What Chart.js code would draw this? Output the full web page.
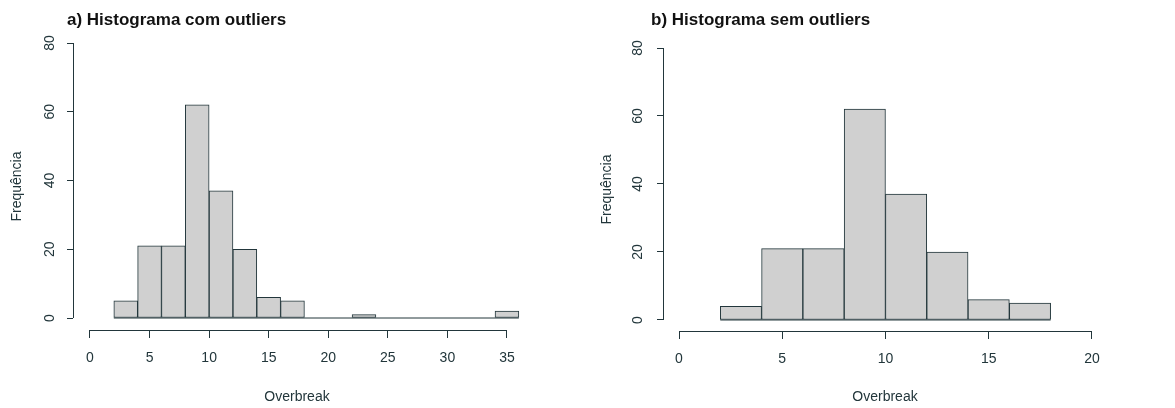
<!DOCTYPE html>
<html>
<head>
<meta charset="utf-8">
<script src="https://cdn.jsdelivr.net/npm/chart.js@4"></script>
<style>
	html, body { margin: 0; padding: 0; background: #fff; }
	.panel { position: absolute; top: 0; height: 408px; }
	#panelA { left: 0; width: 580px; }
	#panelB { left: 580px; width: 595px; }
</style>
</head>
<body>
<div class="panel" id="panelA"><canvas id="histA"></canvas></div>
<div class="panel" id="panelB"><canvas id="histB"></canvas></div>
<script>
// bin edges and counts
const breaksA = [2, 4, 6, 8, 10, 12, 14, 16, 18, 20, 22, 24, 26, 28, 30, 32, 34, 36]
const countsA = [5, 21, 21, 62, 37, 20, 6, 5, 0, 0, 1, 0, 0, 0, 0, 0, 2]
const breaksB = [2, 4, 6, 8, 10, 12, 14, 16, 18]
const countsB = [4, 21, 21, 62, 37, 20, 6, 5]

const xTicksA = [0, 5, 10, 15, 20, 25, 30, 35]
const xTicksB = [0, 5, 10, 15, 20]
const yTicks = [0, 20, 40, 60, 80]

const titleA = 'a) Histograma com outliers'
const titleB = 'b) Histograma sem outliers'
const xLabel = 'Overbreak'
const yLabel = 'Frequência'

const ink = '#22363b'
const barFill = '#d0d0d0'

Chart.defaults.font.family = "'Liberation Sans', Arial, sans-serif"
Chart.defaults.color = ink

// R style axes: lines only between first and last tick
const rAxes = {
	id: 'rAxes',
	afterDraw(chart) {
		const { ctx, chartArea, scales } = chart
		const x = scales.x
		const y = scales.y
		const xl = Math.round(chartArea.left) + 0.5
		const yb = Math.round(chartArea.bottom) + 0.5
		ctx.save()
		ctx.strokeStyle = ink
		ctx.lineWidth = 1
		ctx.beginPath()
		ctx.moveTo(xl, y.getPixelForValue(y.ticks[0].value))
		ctx.lineTo(xl, y.getPixelForValue(y.ticks[y.ticks.length - 1].value))
		ctx.moveTo(x.getPixelForValue(x.ticks[0].value), yb)
		ctx.lineTo(x.getPixelForValue(x.ticks[x.ticks.length - 1].value), yb)
		ctx.stroke()
		ctx.restore()
	},
}

const heading = {
	id: 'heading',
	afterDraw(chart, args, opts) {
		const { ctx } = chart
		ctx.save()
		ctx.font = "bold 17px 'Liberation Sans', Arial, sans-serif"
		ctx.fillStyle = '#111'
		ctx.textBaseline = 'middle'
		ctx.fillText(opts.text, opts.x, opts.y)
		ctx.restore()
	},
}

function makeHist(id, breaks, counts, xTicks, title, lay) {
	const bars = counts.map((c, i) => ({ x: (breaks[i] + breaks[i + 1]) / 2, y: c }))
	const base = [
		{ x: breaks[0], y: 0 },
		{ x: breaks[breaks.length - 1], y: 0 },
	]
	new Chart(document.getElementById(id).getContext('2d'), {
		type: 'bar',
		data: {
			datasets: [
				{
					data: bars,
					backgroundColor: barFill,
					borderColor: ink,
					borderWidth: 1,
					borderSkipped: false,
					barPercentage: 1,
					categoryPercentage: 1,
				},
				{
					type: 'line',
					data: base,
					borderColor: ink,
					borderWidth: 1,
					pointRadius: 0,
				},
			],
		},
		options: {
			responsive: true,
			maintainAspectRatio: false,
			animation: false,
			layout: {
				padding: { top: lay.top, right: lay.right, left: 0, bottom: 0 },
			},
			plugins: {
				legend: { display: false },
				tooltip: { enabled: false },
				heading: { text: title, x: lay.headX, y: 20 },
			},
			scales: {
				x: {
					type: 'linear',
					offset: false,
					min: lay.xMin,
					max: lay.xMax,
					afterBuildTicks: (axis) => {
						axis.ticks = xTicks.map((v) => ({ value: v }))
					},
					afterFit: (axis) => {
						axis.height = lay.xHeight
					},
					border: { display: false },
					grid: {
						offset: false,
						drawOnChartArea: false,
						drawTicks: true,
						tickLength: 8,
						color: ink,
					},
					ticks: {
						padding: 12,
						font: { size: 14 },
						color: ink,
						maxRotation: 0,
						autoSkip: false,
					},
					title: {
						display: true,
						text: xLabel,
						font: { size: 14 },
						color: ink,
						padding: { top: 0, bottom: 2.6 },
					},
				},
				y: {
					type: 'linear',
					min: lay.yMin,
					max: 80,
					afterBuildTicks: (axis) => {
						axis.ticks = yTicks.map((v) => ({ value: v }))
					},
					afterFit: (axis) => {
						axis.width = lay.yWidth
					},
					border: { display: false },
					grid: {
						drawOnChartArea: false,
						drawTicks: true,
						tickLength: 6,
						color: ink,
					},
					ticks: {
						padding: lay.yTickPad,
						minRotation: 90,
						maxRotation: 90,
						crossAlign: 'center',
						font: { size: 14 },
						color: ink,
					},
					title: {
						display: true,
						text: yLabel,
						font: { size: 14 },
						color: ink,
						padding: { top: lay.yTitlePad, bottom: 0 },
					},
				},
			},
		},
		plugins: [rAxes, heading],
	})
}

makeHist('histA', breaksA, countsA, xTicksA, titleA, {
	top: 43, right: 59, xMin: -1.427, xMax: 36.18, yMin: -3.49,
	xHeight: 78, yWidth: 73, yTickPad: 9, yTitlePad: 8.6, headX: 67,
})
makeHist('histB', breaksB, countsB, xTicksB, titleB, {
	top: 48, right: 68, xMin: -0.775, xMax: 20.73, yMin: -3.24,
	xHeight: 77, yWidth: 83, yTickPad: 11, yTitlePad: 18.6, headX: 71,
})
</script>
</body>
</html>
